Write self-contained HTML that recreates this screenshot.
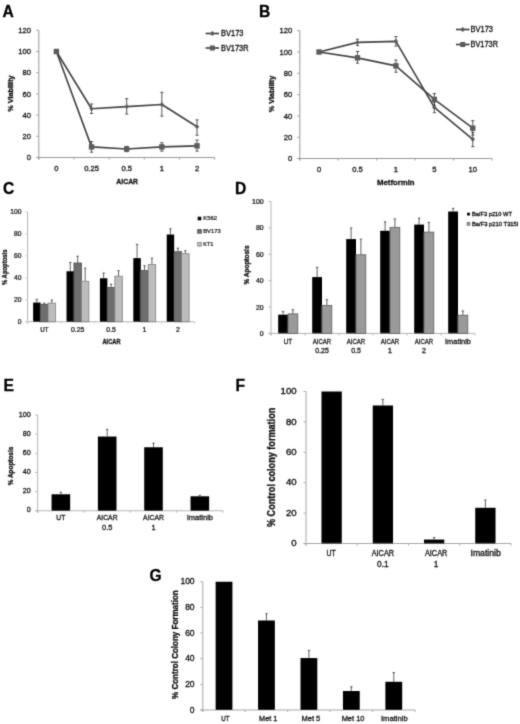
<!DOCTYPE html>
<html><head><meta charset="utf-8"><title>Figure</title>
<style>html,body{margin:0;padding:0;background:#fff;}svg{display:block;}</style>
</head><body>
<svg width="520" height="724" viewBox="0 0 520 724" font-family="Liberation Sans, sans-serif">
<rect width="520" height="724" fill="#fff"/>
<defs><filter id="bl" x="0" y="0" width="520" height="724" filterUnits="userSpaceOnUse"><feConvolveMatrix order="3" kernelMatrix="0.01917 0.10012 0.01917 0.10012 0.52283 0.10012 0.01917 0.10012 0.01917" divisor="1" edgeMode="duplicate" preserveAlpha="false"/></filter></defs>
<g filter="url(#bl)">
<text x="2.5" y="17.2" font-size="15.6" text-anchor="start" font-weight="bold" fill="#000" stroke="#000" stroke-width="0.3">A</text>
<text x="259" y="17.2" font-size="15.6" text-anchor="start" font-weight="bold" fill="#000" stroke="#000" stroke-width="0.3">B</text>
<text x="3" y="194.3" font-size="15.6" text-anchor="start" font-weight="bold" fill="#000" stroke="#000" stroke-width="0.3">C</text>
<text x="235" y="194.3" font-size="15.6" text-anchor="start" font-weight="bold" fill="#000" stroke="#000" stroke-width="0.3">D</text>
<text x="3.6" y="390.6" font-size="15.6" text-anchor="start" font-weight="bold" fill="#000" stroke="#000" stroke-width="0.3">E</text>
<text x="235.5" y="391" font-size="15.6" text-anchor="start" font-weight="bold" fill="#000" stroke="#000" stroke-width="0.3">F</text>
<text x="149.5" y="581.3" font-size="15.6" text-anchor="start" font-weight="bold" fill="#000" stroke="#000" stroke-width="0.3">G</text>
<line x1="38.80" y1="30.30" x2="38.80" y2="159.50" stroke="#9a9a9a" stroke-width="1"/>
<line x1="36.30" y1="157.50" x2="214.60" y2="157.50" stroke="#9a9a9a" stroke-width="1"/>
<line x1="36.30" y1="157.50" x2="38.80" y2="157.50" stroke="#9a9a9a" stroke-width="1"/>
<text x="30.9" y="160.236" font-size="7.6" text-anchor="end" font-weight="normal" fill="#0e0e0e" stroke="#0e0e0e" stroke-width="0.27359999999999995">0</text>
<line x1="36.30" y1="136.30" x2="38.80" y2="136.30" stroke="#9a9a9a" stroke-width="1"/>
<text x="30.9" y="139.036" font-size="7.6" text-anchor="end" font-weight="normal" fill="#0e0e0e" stroke="#0e0e0e" stroke-width="0.27359999999999995">20</text>
<line x1="36.30" y1="115.10" x2="38.80" y2="115.10" stroke="#9a9a9a" stroke-width="1"/>
<text x="30.9" y="117.836" font-size="7.6" text-anchor="end" font-weight="normal" fill="#0e0e0e" stroke="#0e0e0e" stroke-width="0.27359999999999995">40</text>
<line x1="36.30" y1="93.90" x2="38.80" y2="93.90" stroke="#9a9a9a" stroke-width="1"/>
<text x="30.9" y="96.63600000000001" font-size="7.6" text-anchor="end" font-weight="normal" fill="#0e0e0e" stroke="#0e0e0e" stroke-width="0.27359999999999995">60</text>
<line x1="36.30" y1="72.70" x2="38.80" y2="72.70" stroke="#9a9a9a" stroke-width="1"/>
<text x="30.9" y="75.436" font-size="7.6" text-anchor="end" font-weight="normal" fill="#0e0e0e" stroke="#0e0e0e" stroke-width="0.27359999999999995">80</text>
<line x1="36.30" y1="51.50" x2="38.80" y2="51.50" stroke="#9a9a9a" stroke-width="1"/>
<text x="30.9" y="54.236" font-size="7.6" text-anchor="end" font-weight="normal" fill="#0e0e0e" stroke="#0e0e0e" stroke-width="0.27359999999999995">100</text>
<line x1="36.30" y1="30.30" x2="38.80" y2="30.30" stroke="#9a9a9a" stroke-width="1"/>
<text x="30.9" y="33.035999999999994" font-size="7.6" text-anchor="end" font-weight="normal" fill="#0e0e0e" stroke="#0e0e0e" stroke-width="0.27359999999999995">120</text>
<line x1="38.80" y1="157.50" x2="38.80" y2="159.50" stroke="#9a9a9a" stroke-width="1"/>
<line x1="73.96" y1="157.50" x2="73.96" y2="159.50" stroke="#9a9a9a" stroke-width="1"/>
<line x1="109.12" y1="157.50" x2="109.12" y2="159.50" stroke="#9a9a9a" stroke-width="1"/>
<line x1="144.28" y1="157.50" x2="144.28" y2="159.50" stroke="#9a9a9a" stroke-width="1"/>
<line x1="179.44" y1="157.50" x2="179.44" y2="159.50" stroke="#9a9a9a" stroke-width="1"/>
<line x1="214.60" y1="157.50" x2="214.60" y2="159.50" stroke="#9a9a9a" stroke-width="1"/>
<text x="56.379999999999995" y="170.7" font-size="7.6" text-anchor="middle" font-weight="normal" fill="#0e0e0e" stroke="#0e0e0e" stroke-width="0.27359999999999995">0</text>
<text x="91.54" y="170.7" font-size="7.6" text-anchor="middle" font-weight="normal" fill="#0e0e0e" stroke="#0e0e0e" stroke-width="0.27359999999999995">0.25</text>
<text x="126.7" y="170.7" font-size="7.6" text-anchor="middle" font-weight="normal" fill="#0e0e0e" stroke="#0e0e0e" stroke-width="0.27359999999999995">0.5</text>
<text x="161.86" y="170.7" font-size="7.6" text-anchor="middle" font-weight="normal" fill="#0e0e0e" stroke="#0e0e0e" stroke-width="0.27359999999999995">1</text>
<text x="197.02000000000004" y="170.7" font-size="7.6" text-anchor="middle" font-weight="normal" fill="#0e0e0e" stroke="#0e0e0e" stroke-width="0.27359999999999995">2</text>
<line x1="91.54" y1="103.97" x2="91.54" y2="113.51" stroke="#454545" stroke-width="0.9"/>
<line x1="89.94" y1="103.97" x2="93.14" y2="103.97" stroke="#454545" stroke-width="0.9"/>
<line x1="89.94" y1="113.51" x2="93.14" y2="113.51" stroke="#454545" stroke-width="0.9"/>
<line x1="126.70" y1="98.67" x2="126.70" y2="114.04" stroke="#454545" stroke-width="0.9"/>
<line x1="125.10" y1="98.67" x2="128.30" y2="98.67" stroke="#454545" stroke-width="0.9"/>
<line x1="125.10" y1="114.04" x2="128.30" y2="114.04" stroke="#454545" stroke-width="0.9"/>
<line x1="161.86" y1="92.31" x2="161.86" y2="116.16" stroke="#454545" stroke-width="0.9"/>
<line x1="160.26" y1="92.31" x2="163.46" y2="92.31" stroke="#454545" stroke-width="0.9"/>
<line x1="160.26" y1="116.16" x2="163.46" y2="116.16" stroke="#454545" stroke-width="0.9"/>
<line x1="197.02" y1="119.87" x2="197.02" y2="135.24" stroke="#454545" stroke-width="0.9"/>
<line x1="195.42" y1="119.87" x2="198.62" y2="119.87" stroke="#454545" stroke-width="0.9"/>
<line x1="195.42" y1="135.24" x2="198.62" y2="135.24" stroke="#454545" stroke-width="0.9"/>
<polyline points="56.38,51.50 91.54,108.74 126.70,106.62 161.86,104.50 197.02,126.76" fill="none" stroke="#454545" stroke-width="1.65" stroke-linejoin="round"/>
<polygon points="56.379999999999995,49.2 58.67999999999999,51.5 56.379999999999995,53.8 54.08,51.5" fill="#5c5c5c"/>
<polygon points="91.54,106.44000000000001 93.84,108.74000000000001 91.54,111.04 89.24000000000001,108.74000000000001" fill="#5c5c5c"/>
<polygon points="126.7,104.32000000000001 129.0,106.62 126.7,108.92 124.4,106.62" fill="#5c5c5c"/>
<polygon points="161.86,102.2 164.16000000000003,104.5 161.86,106.8 159.56,104.5" fill="#5c5c5c"/>
<polygon points="197.02000000000004,124.46 199.32000000000005,126.75999999999999 197.02000000000004,129.06 194.72000000000003,126.75999999999999" fill="#5c5c5c"/>
<line x1="91.54" y1="141.60" x2="91.54" y2="152.20" stroke="#454545" stroke-width="0.9"/>
<line x1="89.94" y1="141.60" x2="93.14" y2="141.60" stroke="#454545" stroke-width="0.9"/>
<line x1="89.94" y1="152.20" x2="93.14" y2="152.20" stroke="#454545" stroke-width="0.9"/>
<line x1="126.70" y1="146.37" x2="126.70" y2="151.67" stroke="#454545" stroke-width="0.9"/>
<line x1="125.10" y1="146.37" x2="128.30" y2="146.37" stroke="#454545" stroke-width="0.9"/>
<line x1="125.10" y1="151.67" x2="128.30" y2="151.67" stroke="#454545" stroke-width="0.9"/>
<line x1="161.86" y1="142.66" x2="161.86" y2="151.14" stroke="#454545" stroke-width="0.9"/>
<line x1="160.26" y1="142.66" x2="163.46" y2="142.66" stroke="#454545" stroke-width="0.9"/>
<line x1="160.26" y1="151.14" x2="163.46" y2="151.14" stroke="#454545" stroke-width="0.9"/>
<line x1="197.02" y1="140.01" x2="197.02" y2="151.14" stroke="#454545" stroke-width="0.9"/>
<line x1="195.42" y1="140.01" x2="198.62" y2="140.01" stroke="#454545" stroke-width="0.9"/>
<line x1="195.42" y1="151.14" x2="198.62" y2="151.14" stroke="#454545" stroke-width="0.9"/>
<polyline points="56.38,51.50 91.54,146.90 126.70,149.02 161.86,146.90 197.02,145.84" fill="none" stroke="#454545" stroke-width="1.65" stroke-linejoin="round"/>
<rect x="53.68" y="48.80" width="5.40" height="5.40" fill="#5c5c5c"/>
<rect x="88.84" y="144.20" width="5.40" height="5.40" fill="#5c5c5c"/>
<rect x="124.00" y="146.32" width="5.40" height="5.40" fill="#5c5c5c"/>
<rect x="159.16" y="144.20" width="5.40" height="5.40" fill="#5c5c5c"/>
<rect x="194.32" y="143.14" width="5.40" height="5.40" fill="#5c5c5c"/>
<line x1="205.70" y1="33.50" x2="219.00" y2="33.50" stroke="#454545" stroke-width="1.7"/>
<polygon points="212.35,30.9 214.95,33.5 212.35,36.1 209.75,33.5" fill="#5c5c5c"/>
<line x1="205.70" y1="48.00" x2="219.00" y2="48.00" stroke="#454545" stroke-width="1.7"/>
<rect x="209.85" y="45.50" width="5.00" height="5.00" fill="#5c5c5c"/>
<text x="221" y="36.4" font-size="8.2" text-anchor="start" font-weight="normal" fill="#0e0e0e" textLength="22.5" lengthAdjust="spacingAndGlyphs" stroke="#0e0e0e" stroke-width="0.29519999999999996">BV173</text>
<text x="221" y="50.9" font-size="8.2" text-anchor="start" font-weight="normal" fill="#0e0e0e" textLength="27.5" lengthAdjust="spacingAndGlyphs" stroke="#0e0e0e" stroke-width="0.29519999999999996">BV173R</text>
<text x="127.2" y="183.6" font-size="7.8" text-anchor="middle" font-weight="bold" fill="#111" textLength="21.8" lengthAdjust="spacingAndGlyphs" stroke="#111" stroke-width="0.3">AICAR</text>
<text x="13.3" y="93.6" font-size="7.2" text-anchor="middle" font-weight="bold" fill="#111" transform="rotate(-90 13.3 93.6)" textLength="36.5" lengthAdjust="spacingAndGlyphs" stroke="#111" stroke-width="0.3">% Viability</text>
<line x1="299.80" y1="30.70" x2="299.80" y2="160.50" stroke="#9a9a9a" stroke-width="1"/>
<line x1="297.30" y1="158.50" x2="492.00" y2="158.50" stroke="#9a9a9a" stroke-width="1"/>
<line x1="297.30" y1="158.50" x2="299.80" y2="158.50" stroke="#9a9a9a" stroke-width="1"/>
<text x="292.2" y="161.236" font-size="7.6" text-anchor="end" font-weight="normal" fill="#0e0e0e" stroke="#0e0e0e" stroke-width="0.27359999999999995">0</text>
<line x1="297.30" y1="137.20" x2="299.80" y2="137.20" stroke="#9a9a9a" stroke-width="1"/>
<text x="292.2" y="139.93599999999998" font-size="7.6" text-anchor="end" font-weight="normal" fill="#0e0e0e" stroke="#0e0e0e" stroke-width="0.27359999999999995">20</text>
<line x1="297.30" y1="115.90" x2="299.80" y2="115.90" stroke="#9a9a9a" stroke-width="1"/>
<text x="292.2" y="118.63600000000001" font-size="7.6" text-anchor="end" font-weight="normal" fill="#0e0e0e" stroke="#0e0e0e" stroke-width="0.27359999999999995">40</text>
<line x1="297.30" y1="94.60" x2="299.80" y2="94.60" stroke="#9a9a9a" stroke-width="1"/>
<text x="292.2" y="97.336" font-size="7.6" text-anchor="end" font-weight="normal" fill="#0e0e0e" stroke="#0e0e0e" stroke-width="0.27359999999999995">60</text>
<line x1="297.30" y1="73.30" x2="299.80" y2="73.30" stroke="#9a9a9a" stroke-width="1"/>
<text x="292.2" y="76.036" font-size="7.6" text-anchor="end" font-weight="normal" fill="#0e0e0e" stroke="#0e0e0e" stroke-width="0.27359999999999995">80</text>
<line x1="297.30" y1="52.00" x2="299.80" y2="52.00" stroke="#9a9a9a" stroke-width="1"/>
<text x="292.2" y="54.736" font-size="7.6" text-anchor="end" font-weight="normal" fill="#0e0e0e" stroke="#0e0e0e" stroke-width="0.27359999999999995">100</text>
<line x1="297.30" y1="30.70" x2="299.80" y2="30.70" stroke="#9a9a9a" stroke-width="1"/>
<text x="292.2" y="33.436" font-size="7.6" text-anchor="end" font-weight="normal" fill="#0e0e0e" stroke="#0e0e0e" stroke-width="0.27359999999999995">120</text>
<line x1="299.80" y1="158.50" x2="299.80" y2="160.50" stroke="#9a9a9a" stroke-width="1"/>
<line x1="338.24" y1="158.50" x2="338.24" y2="160.50" stroke="#9a9a9a" stroke-width="1"/>
<line x1="376.68" y1="158.50" x2="376.68" y2="160.50" stroke="#9a9a9a" stroke-width="1"/>
<line x1="415.12" y1="158.50" x2="415.12" y2="160.50" stroke="#9a9a9a" stroke-width="1"/>
<line x1="453.56" y1="158.50" x2="453.56" y2="160.50" stroke="#9a9a9a" stroke-width="1"/>
<line x1="492.00" y1="158.50" x2="492.00" y2="160.50" stroke="#9a9a9a" stroke-width="1"/>
<text x="319.02" y="171.7" font-size="7.6" text-anchor="middle" font-weight="normal" fill="#0e0e0e" stroke="#0e0e0e" stroke-width="0.27359999999999995">0</text>
<text x="357.46000000000004" y="171.7" font-size="7.6" text-anchor="middle" font-weight="normal" fill="#0e0e0e" stroke="#0e0e0e" stroke-width="0.27359999999999995">0.5</text>
<text x="395.9" y="171.7" font-size="7.6" text-anchor="middle" font-weight="normal" fill="#0e0e0e" stroke="#0e0e0e" stroke-width="0.27359999999999995">1</text>
<text x="434.34000000000003" y="171.7" font-size="7.6" text-anchor="middle" font-weight="normal" fill="#0e0e0e" stroke="#0e0e0e" stroke-width="0.27359999999999995">5</text>
<text x="472.78" y="171.7" font-size="7.6" text-anchor="middle" font-weight="normal" fill="#0e0e0e" stroke="#0e0e0e" stroke-width="0.27359999999999995">10</text>
<line x1="357.46" y1="39.22" x2="357.46" y2="45.61" stroke="#454545" stroke-width="0.9"/>
<line x1="355.86" y1="39.22" x2="359.06" y2="39.22" stroke="#454545" stroke-width="0.9"/>
<line x1="355.86" y1="45.61" x2="359.06" y2="45.61" stroke="#454545" stroke-width="0.9"/>
<line x1="395.90" y1="36.56" x2="395.90" y2="46.14" stroke="#454545" stroke-width="0.9"/>
<line x1="394.30" y1="36.56" x2="397.50" y2="36.56" stroke="#454545" stroke-width="0.9"/>
<line x1="394.30" y1="46.14" x2="397.50" y2="46.14" stroke="#454545" stroke-width="0.9"/>
<line x1="434.34" y1="102.06" x2="434.34" y2="112.71" stroke="#454545" stroke-width="0.9"/>
<line x1="432.74" y1="102.06" x2="435.94" y2="102.06" stroke="#454545" stroke-width="0.9"/>
<line x1="432.74" y1="112.71" x2="435.94" y2="112.71" stroke="#454545" stroke-width="0.9"/>
<line x1="472.78" y1="132.41" x2="472.78" y2="146.78" stroke="#454545" stroke-width="0.9"/>
<line x1="471.18" y1="132.41" x2="474.38" y2="132.41" stroke="#454545" stroke-width="0.9"/>
<line x1="471.18" y1="146.78" x2="474.38" y2="146.78" stroke="#454545" stroke-width="0.9"/>
<polyline points="319.02,52.00 357.46,42.42 395.90,41.35 434.34,107.38 472.78,139.33" fill="none" stroke="#454545" stroke-width="1.65" stroke-linejoin="round"/>
<polygon points="319.02,49.7 321.32,52.0 319.02,54.3 316.71999999999997,52.0" fill="#5c5c5c"/>
<polygon points="357.46000000000004,40.11500000000001 359.76000000000005,42.415000000000006 357.46000000000004,44.715 355.16,42.415000000000006" fill="#5c5c5c"/>
<polygon points="395.9,39.05 398.2,41.349999999999994 395.9,43.64999999999999 393.59999999999997,41.349999999999994" fill="#5c5c5c"/>
<polygon points="434.34000000000003,105.08 436.64000000000004,107.38 434.34000000000003,109.67999999999999 432.04,107.38" fill="#5c5c5c"/>
<polygon points="472.78,137.02999999999997 475.08,139.32999999999998 472.78,141.63 470.47999999999996,139.32999999999998" fill="#5c5c5c"/>
<line x1="357.46" y1="51.47" x2="357.46" y2="63.18" stroke="#454545" stroke-width="0.9"/>
<line x1="355.86" y1="51.47" x2="359.06" y2="51.47" stroke="#454545" stroke-width="0.9"/>
<line x1="355.86" y1="63.18" x2="359.06" y2="63.18" stroke="#454545" stroke-width="0.9"/>
<line x1="395.90" y1="59.99" x2="395.90" y2="72.23" stroke="#454545" stroke-width="0.9"/>
<line x1="394.30" y1="59.99" x2="397.50" y2="59.99" stroke="#454545" stroke-width="0.9"/>
<line x1="394.30" y1="72.23" x2="397.50" y2="72.23" stroke="#454545" stroke-width="0.9"/>
<line x1="434.34" y1="93.53" x2="434.34" y2="105.25" stroke="#454545" stroke-width="0.9"/>
<line x1="432.74" y1="93.53" x2="435.94" y2="93.53" stroke="#454545" stroke-width="0.9"/>
<line x1="432.74" y1="105.25" x2="435.94" y2="105.25" stroke="#454545" stroke-width="0.9"/>
<line x1="472.78" y1="120.69" x2="472.78" y2="135.07" stroke="#454545" stroke-width="0.9"/>
<line x1="471.18" y1="120.69" x2="474.38" y2="120.69" stroke="#454545" stroke-width="0.9"/>
<line x1="471.18" y1="135.07" x2="474.38" y2="135.07" stroke="#454545" stroke-width="0.9"/>
<polyline points="319.02,52.00 357.46,57.86 395.90,65.84 434.34,99.39 472.78,128.15" fill="none" stroke="#454545" stroke-width="1.65" stroke-linejoin="round"/>
<rect x="316.32" y="49.30" width="5.40" height="5.40" fill="#5c5c5c"/>
<rect x="354.76" y="55.16" width="5.40" height="5.40" fill="#5c5c5c"/>
<rect x="393.20" y="63.14" width="5.40" height="5.40" fill="#5c5c5c"/>
<rect x="431.64" y="96.69" width="5.40" height="5.40" fill="#5c5c5c"/>
<rect x="470.08" y="125.45" width="5.40" height="5.40" fill="#5c5c5c"/>
<line x1="456.00" y1="29.50" x2="469.50" y2="29.50" stroke="#454545" stroke-width="1.7"/>
<polygon points="462.75,26.9 465.35,29.5 462.75,32.1 460.15,29.5" fill="#5c5c5c"/>
<line x1="456.00" y1="44.50" x2="469.50" y2="44.50" stroke="#454545" stroke-width="1.7"/>
<rect x="460.25" y="42.00" width="5.00" height="5.00" fill="#5c5c5c"/>
<text x="470.5" y="32.4" font-size="8.2" text-anchor="start" font-weight="normal" fill="#0e0e0e" textLength="22.5" lengthAdjust="spacingAndGlyphs" stroke="#0e0e0e" stroke-width="0.29519999999999996">BV173</text>
<text x="470.5" y="47.4" font-size="8.2" text-anchor="start" font-weight="normal" fill="#0e0e0e" textLength="27.5" lengthAdjust="spacingAndGlyphs" stroke="#0e0e0e" stroke-width="0.29519999999999996">BV173R</text>
<text x="395.8" y="184.5" font-size="7.8" text-anchor="middle" font-weight="bold" fill="#111" textLength="37.5" lengthAdjust="spacingAndGlyphs" stroke="#111" stroke-width="0.3">Metformin</text>
<text x="274.3" y="94" font-size="7.2" text-anchor="middle" font-weight="bold" fill="#111" transform="rotate(-90 274.3 94)" textLength="36.5" lengthAdjust="spacingAndGlyphs" stroke="#111" stroke-width="0.3">% Viability</text>
<line x1="27.60" y1="212.00" x2="27.60" y2="323.75" stroke="#b4b4b4" stroke-width="1"/>
<line x1="25.10" y1="321.75" x2="194.60" y2="321.75" stroke="#b4b4b4" stroke-width="1"/>
<line x1="25.10" y1="321.75" x2="27.60" y2="321.75" stroke="#d2d2d2" stroke-width="1"/>
<text x="21.4" y="324.162" font-size="6.7" text-anchor="end" font-weight="normal" fill="#0e0e0e" stroke="#0e0e0e" stroke-width="0.2412">0</text>
<line x1="25.10" y1="299.80" x2="27.60" y2="299.80" stroke="#d2d2d2" stroke-width="1"/>
<text x="21.4" y="302.212" font-size="6.7" text-anchor="end" font-weight="normal" fill="#0e0e0e" stroke="#0e0e0e" stroke-width="0.2412">20</text>
<line x1="25.10" y1="277.85" x2="27.60" y2="277.85" stroke="#d2d2d2" stroke-width="1"/>
<text x="21.4" y="280.262" font-size="6.7" text-anchor="end" font-weight="normal" fill="#0e0e0e" stroke="#0e0e0e" stroke-width="0.2412">40</text>
<line x1="25.10" y1="255.90" x2="27.60" y2="255.90" stroke="#d2d2d2" stroke-width="1"/>
<text x="21.4" y="258.312" font-size="6.7" text-anchor="end" font-weight="normal" fill="#0e0e0e" stroke="#0e0e0e" stroke-width="0.2412">60</text>
<line x1="25.10" y1="233.95" x2="27.60" y2="233.95" stroke="#d2d2d2" stroke-width="1"/>
<text x="21.4" y="236.362" font-size="6.7" text-anchor="end" font-weight="normal" fill="#0e0e0e" stroke="#0e0e0e" stroke-width="0.2412">80</text>
<line x1="25.10" y1="212.00" x2="27.60" y2="212.00" stroke="#d2d2d2" stroke-width="1"/>
<text x="21.4" y="214.412" font-size="6.7" text-anchor="end" font-weight="normal" fill="#0e0e0e" stroke="#0e0e0e" stroke-width="0.2412">100</text>
<line x1="27.60" y1="321.75" x2="27.60" y2="323.75" stroke="#d2d2d2" stroke-width="1"/>
<line x1="61.00" y1="321.75" x2="61.00" y2="323.75" stroke="#d2d2d2" stroke-width="1"/>
<line x1="94.40" y1="321.75" x2="94.40" y2="323.75" stroke="#d2d2d2" stroke-width="1"/>
<line x1="127.80" y1="321.75" x2="127.80" y2="323.75" stroke="#d2d2d2" stroke-width="1"/>
<line x1="161.20" y1="321.75" x2="161.20" y2="323.75" stroke="#d2d2d2" stroke-width="1"/>
<line x1="194.60" y1="321.75" x2="194.60" y2="323.75" stroke="#d2d2d2" stroke-width="1"/>
<line x1="36.85" y1="299.25" x2="36.85" y2="302.54" stroke="#3a3a3a" stroke-width="0.8"/>
<line x1="35.65" y1="299.25" x2="38.05" y2="299.25" stroke="#3a3a3a" stroke-width="0.8"/>
<rect x="33.12" y="302.54" width="7.45" height="19.21" fill="#000"/>
<line x1="44.30" y1="303.20" x2="44.30" y2="304.30" stroke="#3a3a3a" stroke-width="0.8"/>
<line x1="43.10" y1="303.20" x2="45.50" y2="303.20" stroke="#3a3a3a" stroke-width="0.8"/>
<rect x="40.58" y="304.30" width="7.45" height="17.45" fill="#6e6e6e" stroke="#4a4a4a" stroke-width="0.8"/>
<line x1="51.75" y1="300.02" x2="51.75" y2="303.09" stroke="#3a3a3a" stroke-width="0.8"/>
<line x1="50.55" y1="300.02" x2="52.95" y2="300.02" stroke="#3a3a3a" stroke-width="0.8"/>
<rect x="48.02" y="303.09" width="7.45" height="18.66" fill="#bdbdbd" stroke="#7d7d7d" stroke-width="0.8"/>
<text x="44.3" y="332.4" font-size="6.9" text-anchor="middle" font-weight="normal" fill="#0e0e0e" textLength="8.3" lengthAdjust="spacingAndGlyphs" stroke="#0e0e0e" stroke-width="0.24839999999999998">UT</text>
<line x1="70.25" y1="262.49" x2="70.25" y2="271.26" stroke="#3a3a3a" stroke-width="0.8"/>
<line x1="69.05" y1="262.49" x2="71.45" y2="262.49" stroke="#3a3a3a" stroke-width="0.8"/>
<rect x="66.52" y="271.26" width="7.45" height="50.49" fill="#000"/>
<line x1="77.70" y1="256.23" x2="77.70" y2="263.03" stroke="#3a3a3a" stroke-width="0.8"/>
<line x1="76.50" y1="256.23" x2="78.90" y2="256.23" stroke="#3a3a3a" stroke-width="0.8"/>
<rect x="73.97" y="263.03" width="7.45" height="58.72" fill="#6e6e6e" stroke="#4a4a4a" stroke-width="0.8"/>
<line x1="85.15" y1="268.19" x2="85.15" y2="281.25" stroke="#3a3a3a" stroke-width="0.8"/>
<line x1="83.95" y1="268.19" x2="86.35" y2="268.19" stroke="#3a3a3a" stroke-width="0.8"/>
<rect x="81.42" y="281.25" width="7.45" height="40.50" fill="#bdbdbd" stroke="#7d7d7d" stroke-width="0.8"/>
<text x="77.69999999999999" y="332.4" font-size="6.9" text-anchor="middle" font-weight="normal" fill="#0e0e0e" stroke="#0e0e0e" stroke-width="0.24839999999999998">0.25</text>
<line x1="103.65" y1="273.02" x2="103.65" y2="278.29" stroke="#3a3a3a" stroke-width="0.8"/>
<line x1="102.45" y1="273.02" x2="104.85" y2="273.02" stroke="#3a3a3a" stroke-width="0.8"/>
<rect x="99.92" y="278.29" width="7.45" height="43.46" fill="#000"/>
<line x1="111.10" y1="284.22" x2="111.10" y2="287.51" stroke="#3a3a3a" stroke-width="0.8"/>
<line x1="109.90" y1="284.22" x2="112.30" y2="284.22" stroke="#3a3a3a" stroke-width="0.8"/>
<rect x="107.38" y="287.51" width="7.45" height="34.24" fill="#6e6e6e" stroke="#4a4a4a" stroke-width="0.8"/>
<line x1="118.55" y1="270.72" x2="118.55" y2="276.20" stroke="#3a3a3a" stroke-width="0.8"/>
<line x1="117.35" y1="270.72" x2="119.75" y2="270.72" stroke="#3a3a3a" stroke-width="0.8"/>
<rect x="114.83" y="276.20" width="7.45" height="45.55" fill="#bdbdbd" stroke="#7d7d7d" stroke-width="0.8"/>
<text x="111.1" y="332.4" font-size="6.9" text-anchor="middle" font-weight="normal" fill="#0e0e0e" stroke="#0e0e0e" stroke-width="0.24839999999999998">0.5</text>
<line x1="137.05" y1="244.38" x2="137.05" y2="258.10" stroke="#3a3a3a" stroke-width="0.8"/>
<line x1="135.85" y1="244.38" x2="138.25" y2="244.38" stroke="#3a3a3a" stroke-width="0.8"/>
<rect x="133.32" y="258.10" width="7.45" height="63.65" fill="#000"/>
<line x1="144.50" y1="265.78" x2="144.50" y2="270.50" stroke="#3a3a3a" stroke-width="0.8"/>
<line x1="143.30" y1="265.78" x2="145.70" y2="265.78" stroke="#3a3a3a" stroke-width="0.8"/>
<rect x="140.77" y="270.50" width="7.45" height="51.25" fill="#6e6e6e" stroke="#4a4a4a" stroke-width="0.8"/>
<line x1="151.95" y1="258.20" x2="151.95" y2="264.46" stroke="#3a3a3a" stroke-width="0.8"/>
<line x1="150.75" y1="258.20" x2="153.15" y2="258.20" stroke="#3a3a3a" stroke-width="0.8"/>
<rect x="148.22" y="264.46" width="7.45" height="57.29" fill="#bdbdbd" stroke="#7d7d7d" stroke-width="0.8"/>
<text x="144.5" y="332.4" font-size="6.9" text-anchor="middle" font-weight="normal" fill="#0e0e0e" stroke="#0e0e0e" stroke-width="0.24839999999999998">1</text>
<line x1="170.45" y1="228.79" x2="170.45" y2="234.50" stroke="#3a3a3a" stroke-width="0.8"/>
<line x1="169.25" y1="228.79" x2="171.65" y2="228.79" stroke="#3a3a3a" stroke-width="0.8"/>
<rect x="166.72" y="234.50" width="7.45" height="87.25" fill="#000"/>
<line x1="177.90" y1="248.22" x2="177.90" y2="251.73" stroke="#3a3a3a" stroke-width="0.8"/>
<line x1="176.70" y1="248.22" x2="179.10" y2="248.22" stroke="#3a3a3a" stroke-width="0.8"/>
<rect x="174.17" y="251.73" width="7.45" height="70.02" fill="#6e6e6e" stroke="#4a4a4a" stroke-width="0.8"/>
<line x1="185.35" y1="250.74" x2="185.35" y2="253.70" stroke="#3a3a3a" stroke-width="0.8"/>
<line x1="184.15" y1="250.74" x2="186.55" y2="250.74" stroke="#3a3a3a" stroke-width="0.8"/>
<rect x="181.62" y="253.70" width="7.45" height="68.05" fill="#bdbdbd" stroke="#7d7d7d" stroke-width="0.8"/>
<text x="177.89999999999998" y="332.4" font-size="6.9" text-anchor="middle" font-weight="normal" fill="#0e0e0e" stroke="#0e0e0e" stroke-width="0.24839999999999998">2</text>
<text x="111.5" y="343.8" font-size="6.6" text-anchor="middle" font-weight="bold" fill="#111" textLength="18" lengthAdjust="spacingAndGlyphs" stroke="#111" stroke-width="0.3">AICAR</text>
<text x="7.1" y="267.3" font-size="6.7" text-anchor="middle" font-weight="bold" fill="#111" transform="rotate(-90 7.1 267.3)" textLength="35.5" lengthAdjust="spacingAndGlyphs" stroke="#111" stroke-width="0.3">% Apoptosis</text>
<rect x="197.70" y="216.70" width="3.60" height="3.60" fill="#000"/>
<text x="203.2" y="220.3" font-size="6" text-anchor="start" font-weight="normal" fill="#0e0e0e" textLength="13.8" lengthAdjust="spacingAndGlyphs" stroke="#0e0e0e" stroke-width="0.21599999999999997">K562</text>
<rect x="197.70" y="229.60" width="3.60" height="3.60" fill="#6e6e6e" stroke="#4a4a4a" stroke-width="0.8"/>
<text x="203.2" y="233.20000000000002" font-size="6" text-anchor="start" font-weight="normal" fill="#0e0e0e" textLength="17.5" lengthAdjust="spacingAndGlyphs" stroke="#0e0e0e" stroke-width="0.21599999999999997">BV173</text>
<rect x="197.70" y="242.50" width="3.60" height="3.60" fill="#bdbdbd" stroke="#7d7d7d" stroke-width="0.8"/>
<text x="203.2" y="246.10000000000002" font-size="6" text-anchor="start" font-weight="normal" fill="#0e0e0e" textLength="10.3" lengthAdjust="spacingAndGlyphs" stroke="#0e0e0e" stroke-width="0.21599999999999997">KT1</text>
<line x1="271.00" y1="201.50" x2="271.00" y2="335.40" stroke="#b4b4b4" stroke-width="1"/>
<line x1="268.50" y1="333.40" x2="475.00" y2="333.40" stroke="#b4b4b4" stroke-width="1"/>
<line x1="268.50" y1="333.40" x2="271.00" y2="333.40" stroke="#b4b4b4" stroke-width="1"/>
<text x="263.6" y="335.88399999999996" font-size="6.9" text-anchor="end" font-weight="normal" fill="#0e0e0e" stroke="#0e0e0e" stroke-width="0.24839999999999998">0</text>
<line x1="268.50" y1="307.02" x2="271.00" y2="307.02" stroke="#b4b4b4" stroke-width="1"/>
<text x="263.6" y="309.50399999999996" font-size="6.9" text-anchor="end" font-weight="normal" fill="#0e0e0e" stroke="#0e0e0e" stroke-width="0.24839999999999998">20</text>
<line x1="268.50" y1="280.64" x2="271.00" y2="280.64" stroke="#b4b4b4" stroke-width="1"/>
<text x="263.6" y="283.12399999999997" font-size="6.9" text-anchor="end" font-weight="normal" fill="#0e0e0e" stroke="#0e0e0e" stroke-width="0.24839999999999998">40</text>
<line x1="268.50" y1="254.26" x2="271.00" y2="254.26" stroke="#b4b4b4" stroke-width="1"/>
<text x="263.6" y="256.74399999999997" font-size="6.9" text-anchor="end" font-weight="normal" fill="#0e0e0e" stroke="#0e0e0e" stroke-width="0.24839999999999998">60</text>
<line x1="268.50" y1="227.88" x2="271.00" y2="227.88" stroke="#b4b4b4" stroke-width="1"/>
<text x="263.6" y="230.364" font-size="6.9" text-anchor="end" font-weight="normal" fill="#0e0e0e" stroke="#0e0e0e" stroke-width="0.24839999999999998">80</text>
<line x1="268.50" y1="201.50" x2="271.00" y2="201.50" stroke="#b4b4b4" stroke-width="1"/>
<text x="263.6" y="203.984" font-size="6.9" text-anchor="end" font-weight="normal" fill="#0e0e0e" stroke="#0e0e0e" stroke-width="0.24839999999999998">100</text>
<line x1="271.00" y1="333.40" x2="271.00" y2="335.40" stroke="#b4b4b4" stroke-width="1"/>
<line x1="305.00" y1="333.40" x2="305.00" y2="335.40" stroke="#b4b4b4" stroke-width="1"/>
<line x1="339.00" y1="333.40" x2="339.00" y2="335.40" stroke="#b4b4b4" stroke-width="1"/>
<line x1="373.00" y1="333.40" x2="373.00" y2="335.40" stroke="#b4b4b4" stroke-width="1"/>
<line x1="407.00" y1="333.40" x2="407.00" y2="335.40" stroke="#b4b4b4" stroke-width="1"/>
<line x1="441.00" y1="333.40" x2="441.00" y2="335.40" stroke="#b4b4b4" stroke-width="1"/>
<line x1="475.00" y1="333.40" x2="475.00" y2="335.40" stroke="#b4b4b4" stroke-width="1"/>
<line x1="283.10" y1="311.64" x2="283.10" y2="314.67" stroke="#3a3a3a" stroke-width="0.8"/>
<line x1="281.90" y1="311.64" x2="284.30" y2="311.64" stroke="#3a3a3a" stroke-width="0.8"/>
<rect x="278.20" y="314.67" width="9.80" height="18.73" fill="#000"/>
<line x1="292.90" y1="309.66" x2="292.90" y2="313.88" stroke="#3a3a3a" stroke-width="0.8"/>
<line x1="291.70" y1="309.66" x2="294.10" y2="309.66" stroke="#3a3a3a" stroke-width="0.8"/>
<rect x="288.00" y="313.88" width="9.80" height="19.52" fill="#9a9a9a" stroke="#5a5a5a" stroke-width="0.8"/>
<text x="288.0" y="343.8" font-size="7" text-anchor="middle" font-weight="normal" fill="#0e0e0e" textLength="8.4" lengthAdjust="spacingAndGlyphs" stroke="#0e0e0e" stroke-width="0.252">UT</text>
<line x1="317.10" y1="267.32" x2="317.10" y2="277.08" stroke="#3a3a3a" stroke-width="0.8"/>
<line x1="315.90" y1="267.32" x2="318.30" y2="267.32" stroke="#3a3a3a" stroke-width="0.8"/>
<rect x="312.20" y="277.08" width="9.80" height="56.32" fill="#000"/>
<line x1="326.90" y1="299.77" x2="326.90" y2="305.44" stroke="#3a3a3a" stroke-width="0.8"/>
<line x1="325.70" y1="299.77" x2="328.10" y2="299.77" stroke="#3a3a3a" stroke-width="0.8"/>
<rect x="322.00" y="305.44" width="9.80" height="27.96" fill="#9a9a9a" stroke="#5a5a5a" stroke-width="0.8"/>
<text x="322.0" y="343.8" font-size="7" text-anchor="middle" font-weight="normal" fill="#0e0e0e" textLength="18.3" lengthAdjust="spacingAndGlyphs" stroke="#0e0e0e" stroke-width="0.252">AICAR</text>
<text x="322.0" y="353.3" font-size="7" text-anchor="middle" font-weight="normal" fill="#0e0e0e" stroke="#0e0e0e" stroke-width="0.252">0.25</text>
<line x1="351.10" y1="228.01" x2="351.10" y2="239.09" stroke="#3a3a3a" stroke-width="0.8"/>
<line x1="349.90" y1="228.01" x2="352.30" y2="228.01" stroke="#3a3a3a" stroke-width="0.8"/>
<rect x="346.20" y="239.09" width="9.80" height="94.31" fill="#000"/>
<line x1="360.90" y1="239.22" x2="360.90" y2="254.79" stroke="#3a3a3a" stroke-width="0.8"/>
<line x1="359.70" y1="239.22" x2="362.10" y2="239.22" stroke="#3a3a3a" stroke-width="0.8"/>
<rect x="356.00" y="254.79" width="9.80" height="78.61" fill="#9a9a9a" stroke="#5a5a5a" stroke-width="0.8"/>
<text x="356.0" y="343.8" font-size="7" text-anchor="middle" font-weight="normal" fill="#0e0e0e" textLength="18.3" lengthAdjust="spacingAndGlyphs" stroke="#0e0e0e" stroke-width="0.252">AICAR</text>
<text x="356.0" y="353.3" font-size="7" text-anchor="middle" font-weight="normal" fill="#0e0e0e" stroke="#0e0e0e" stroke-width="0.252">0.5</text>
<line x1="385.10" y1="221.81" x2="385.10" y2="230.78" stroke="#3a3a3a" stroke-width="0.8"/>
<line x1="383.90" y1="221.81" x2="386.30" y2="221.81" stroke="#3a3a3a" stroke-width="0.8"/>
<rect x="380.20" y="230.78" width="9.80" height="102.62" fill="#000"/>
<line x1="394.90" y1="218.91" x2="394.90" y2="227.35" stroke="#3a3a3a" stroke-width="0.8"/>
<line x1="393.70" y1="218.91" x2="396.10" y2="218.91" stroke="#3a3a3a" stroke-width="0.8"/>
<rect x="390.00" y="227.35" width="9.80" height="106.05" fill="#9a9a9a" stroke="#5a5a5a" stroke-width="0.8"/>
<text x="390.0" y="343.8" font-size="7" text-anchor="middle" font-weight="normal" fill="#0e0e0e" textLength="18.3" lengthAdjust="spacingAndGlyphs" stroke="#0e0e0e" stroke-width="0.252">AICAR</text>
<text x="390.0" y="353.3" font-size="7" text-anchor="middle" font-weight="normal" fill="#0e0e0e" stroke="#0e0e0e" stroke-width="0.252">1</text>
<line x1="419.10" y1="218.12" x2="419.10" y2="224.58" stroke="#3a3a3a" stroke-width="0.8"/>
<line x1="417.90" y1="218.12" x2="420.30" y2="218.12" stroke="#3a3a3a" stroke-width="0.8"/>
<rect x="414.20" y="224.58" width="9.80" height="108.82" fill="#000"/>
<line x1="428.90" y1="222.34" x2="428.90" y2="232.10" stroke="#3a3a3a" stroke-width="0.8"/>
<line x1="427.70" y1="222.34" x2="430.10" y2="222.34" stroke="#3a3a3a" stroke-width="0.8"/>
<rect x="424.00" y="232.10" width="9.80" height="101.30" fill="#9a9a9a" stroke="#5a5a5a" stroke-width="0.8"/>
<text x="424.0" y="343.8" font-size="7" text-anchor="middle" font-weight="normal" fill="#0e0e0e" textLength="18.3" lengthAdjust="spacingAndGlyphs" stroke="#0e0e0e" stroke-width="0.252">AICAR</text>
<text x="424.0" y="353.3" font-size="7" text-anchor="middle" font-weight="normal" fill="#0e0e0e" stroke="#0e0e0e" stroke-width="0.252">2</text>
<line x1="453.10" y1="208.36" x2="453.10" y2="211.52" stroke="#3a3a3a" stroke-width="0.8"/>
<line x1="451.90" y1="208.36" x2="454.30" y2="208.36" stroke="#3a3a3a" stroke-width="0.8"/>
<rect x="448.20" y="211.52" width="9.80" height="121.88" fill="#000"/>
<line x1="462.90" y1="310.98" x2="462.90" y2="315.20" stroke="#3a3a3a" stroke-width="0.8"/>
<line x1="461.70" y1="310.98" x2="464.10" y2="310.98" stroke="#3a3a3a" stroke-width="0.8"/>
<rect x="458.00" y="315.20" width="9.80" height="18.20" fill="#9a9a9a" stroke="#5a5a5a" stroke-width="0.8"/>
<text x="458.0" y="343.8" font-size="7" text-anchor="middle" font-weight="normal" fill="#0e0e0e" textLength="26" lengthAdjust="spacingAndGlyphs" stroke="#0e0e0e" stroke-width="0.252">Imatinib</text>
<text x="249.3" y="265" font-size="6.6" text-anchor="middle" font-weight="bold" fill="#111" transform="rotate(-90 249.3 265)" textLength="39" lengthAdjust="spacingAndGlyphs" stroke="#111" stroke-width="0.3">% Apoptosis</text>
<rect x="467.10" y="212.70" width="2.80" height="2.80" fill="#000"/>
<text x="471.9" y="216.0" font-size="5.4" text-anchor="start" font-weight="normal" fill="#0e0e0e" textLength="40" lengthAdjust="spacingAndGlyphs" stroke="#0e0e0e" stroke-width="0.28">Ba/F3 p210 WT</text>
<rect x="467.10" y="222.50" width="2.80" height="2.80" fill="#9a9a9a" stroke="#5a5a5a" stroke-width="0.6"/>
<text x="471.9" y="225.8" font-size="5.4" text-anchor="start" font-weight="normal" fill="#0e0e0e" textLength="46.6" lengthAdjust="spacingAndGlyphs" stroke="#0e0e0e" stroke-width="0.28">Ba/F3 p210 T315I</text>
<line x1="37.70" y1="415.00" x2="37.70" y2="512.75" stroke="#b4b4b4" stroke-width="1"/>
<line x1="35.20" y1="510.75" x2="223.00" y2="510.75" stroke="#b4b4b4" stroke-width="1"/>
<line x1="35.20" y1="510.75" x2="37.70" y2="510.75" stroke="#b4b4b4" stroke-width="1"/>
<text x="30.6" y="512.4060000000001" font-size="7.1" text-anchor="end" font-weight="normal" fill="#0e0e0e" stroke="#0e0e0e" stroke-width="0.2556">0</text>
<line x1="35.20" y1="491.60" x2="37.70" y2="491.60" stroke="#b4b4b4" stroke-width="1"/>
<text x="30.6" y="493.25600000000003" font-size="7.1" text-anchor="end" font-weight="normal" fill="#0e0e0e" stroke="#0e0e0e" stroke-width="0.2556">20</text>
<line x1="35.20" y1="472.45" x2="37.70" y2="472.45" stroke="#b4b4b4" stroke-width="1"/>
<text x="30.6" y="474.106" font-size="7.1" text-anchor="end" font-weight="normal" fill="#0e0e0e" stroke="#0e0e0e" stroke-width="0.2556">40</text>
<line x1="35.20" y1="453.30" x2="37.70" y2="453.30" stroke="#b4b4b4" stroke-width="1"/>
<text x="30.6" y="454.956" font-size="7.1" text-anchor="end" font-weight="normal" fill="#0e0e0e" stroke="#0e0e0e" stroke-width="0.2556">60</text>
<line x1="35.20" y1="434.15" x2="37.70" y2="434.15" stroke="#b4b4b4" stroke-width="1"/>
<text x="30.6" y="435.806" font-size="7.1" text-anchor="end" font-weight="normal" fill="#0e0e0e" stroke="#0e0e0e" stroke-width="0.2556">80</text>
<line x1="35.20" y1="415.00" x2="37.70" y2="415.00" stroke="#b4b4b4" stroke-width="1"/>
<text x="30.6" y="416.656" font-size="7.1" text-anchor="end" font-weight="normal" fill="#0e0e0e" stroke="#0e0e0e" stroke-width="0.2556">100</text>
<line x1="37.70" y1="510.75" x2="37.70" y2="512.75" stroke="#b4b4b4" stroke-width="1"/>
<line x1="84.03" y1="510.75" x2="84.03" y2="512.75" stroke="#b4b4b4" stroke-width="1"/>
<line x1="130.35" y1="510.75" x2="130.35" y2="512.75" stroke="#b4b4b4" stroke-width="1"/>
<line x1="176.68" y1="510.75" x2="176.68" y2="512.75" stroke="#b4b4b4" stroke-width="1"/>
<line x1="223.00" y1="510.75" x2="223.00" y2="512.75" stroke="#b4b4b4" stroke-width="1"/>
<line x1="60.86" y1="492.27" x2="60.86" y2="494.28" stroke="#3a3a3a" stroke-width="0.8"/>
<line x1="59.66" y1="492.27" x2="62.06" y2="492.27" stroke="#3a3a3a" stroke-width="0.8"/>
<rect x="51.56" y="494.28" width="18.60" height="16.47" fill="#000"/>
<text x="60.862500000000004" y="519.6" font-size="7.4" text-anchor="middle" font-weight="normal" fill="#0e0e0e" textLength="9" lengthAdjust="spacingAndGlyphs" stroke="#0e0e0e" stroke-width="0.26639999999999997">UT</text>
<line x1="107.19" y1="429.36" x2="107.19" y2="436.54" stroke="#3a3a3a" stroke-width="0.8"/>
<line x1="105.99" y1="429.36" x2="108.39" y2="429.36" stroke="#3a3a3a" stroke-width="0.8"/>
<rect x="97.89" y="436.54" width="18.60" height="74.21" fill="#000"/>
<text x="107.18750000000001" y="519.6" font-size="7.4" text-anchor="middle" font-weight="normal" fill="#0e0e0e" textLength="20.8" lengthAdjust="spacingAndGlyphs" stroke="#0e0e0e" stroke-width="0.26639999999999997">AICAR</text>
<text x="107.18750000000001" y="529.6" font-size="7.4" text-anchor="middle" font-weight="normal" fill="#0e0e0e" stroke="#0e0e0e" stroke-width="0.26639999999999997">0.5</text>
<line x1="153.51" y1="443.25" x2="153.51" y2="447.27" stroke="#3a3a3a" stroke-width="0.8"/>
<line x1="152.31" y1="443.25" x2="154.71" y2="443.25" stroke="#3a3a3a" stroke-width="0.8"/>
<rect x="144.21" y="447.27" width="18.60" height="63.48" fill="#000"/>
<text x="153.5125" y="519.6" font-size="7.4" text-anchor="middle" font-weight="normal" fill="#0e0e0e" textLength="20.8" lengthAdjust="spacingAndGlyphs" stroke="#0e0e0e" stroke-width="0.26639999999999997">AICAR</text>
<text x="153.5125" y="529.6" font-size="7.4" text-anchor="middle" font-weight="normal" fill="#0e0e0e" stroke="#0e0e0e" stroke-width="0.26639999999999997">1</text>
<line x1="199.84" y1="495.33" x2="199.84" y2="496.29" stroke="#3a3a3a" stroke-width="0.8"/>
<line x1="198.64" y1="495.33" x2="201.04" y2="495.33" stroke="#3a3a3a" stroke-width="0.8"/>
<rect x="190.54" y="496.29" width="18.60" height="14.46" fill="#000"/>
<text x="199.83750000000003" y="519.6" font-size="7.4" text-anchor="middle" font-weight="normal" fill="#0e0e0e" textLength="26.3" lengthAdjust="spacingAndGlyphs" stroke="#0e0e0e" stroke-width="0.26639999999999997">Imatinib</text>
<text x="13" y="466" font-size="6.6" text-anchor="middle" font-weight="bold" fill="#111" transform="rotate(-90 13 466)" textLength="38.5" lengthAdjust="spacingAndGlyphs" stroke="#111" stroke-width="0.3">% Apoptosis</text>
<line x1="306.00" y1="391.50" x2="306.00" y2="545.50" stroke="#a8a8a8" stroke-width="1"/>
<line x1="303.50" y1="543.50" x2="511.00" y2="543.50" stroke="#a8a8a8" stroke-width="1"/>
<line x1="303.50" y1="543.50" x2="306.00" y2="543.50" stroke="#a8a8a8" stroke-width="1"/>
<text x="296.6" y="546.1560000000001" font-size="9.6" text-anchor="end" font-weight="normal" fill="#0e0e0e" stroke="#0e0e0e" stroke-width="0.34559999999999996">0</text>
<line x1="303.50" y1="513.10" x2="306.00" y2="513.10" stroke="#a8a8a8" stroke-width="1"/>
<text x="296.6" y="515.7560000000001" font-size="9.6" text-anchor="end" font-weight="normal" fill="#0e0e0e" stroke="#0e0e0e" stroke-width="0.34559999999999996">20</text>
<line x1="303.50" y1="482.70" x2="306.00" y2="482.70" stroke="#a8a8a8" stroke-width="1"/>
<text x="296.6" y="485.356" font-size="9.6" text-anchor="end" font-weight="normal" fill="#0e0e0e" stroke="#0e0e0e" stroke-width="0.34559999999999996">40</text>
<line x1="303.50" y1="452.30" x2="306.00" y2="452.30" stroke="#a8a8a8" stroke-width="1"/>
<text x="296.6" y="454.956" font-size="9.6" text-anchor="end" font-weight="normal" fill="#0e0e0e" stroke="#0e0e0e" stroke-width="0.34559999999999996">60</text>
<line x1="303.50" y1="421.90" x2="306.00" y2="421.90" stroke="#a8a8a8" stroke-width="1"/>
<text x="296.6" y="424.556" font-size="9.6" text-anchor="end" font-weight="normal" fill="#0e0e0e" stroke="#0e0e0e" stroke-width="0.34559999999999996">80</text>
<line x1="303.50" y1="391.50" x2="306.00" y2="391.50" stroke="#a8a8a8" stroke-width="1"/>
<text x="296.6" y="394.156" font-size="9.6" text-anchor="end" font-weight="normal" fill="#0e0e0e" stroke="#0e0e0e" stroke-width="0.34559999999999996">100</text>
<line x1="306.00" y1="543.50" x2="306.00" y2="545.50" stroke="#a8a8a8" stroke-width="1"/>
<line x1="357.25" y1="543.50" x2="357.25" y2="545.50" stroke="#a8a8a8" stroke-width="1"/>
<line x1="408.50" y1="543.50" x2="408.50" y2="545.50" stroke="#a8a8a8" stroke-width="1"/>
<line x1="459.75" y1="543.50" x2="459.75" y2="545.50" stroke="#a8a8a8" stroke-width="1"/>
<line x1="511.00" y1="543.50" x2="511.00" y2="545.50" stroke="#a8a8a8" stroke-width="1"/>
<rect x="321.48" y="391.50" width="20.30" height="152.00" fill="#000"/>
<text x="331.025" y="555.9" font-size="8.3" text-anchor="middle" font-weight="normal" fill="#0e0e0e" textLength="9.2" lengthAdjust="spacingAndGlyphs" stroke="#0e0e0e" stroke-width="0.2988">UT</text>
<line x1="382.88" y1="399.40" x2="382.88" y2="405.48" stroke="#3a3a3a" stroke-width="0.8"/>
<line x1="381.68" y1="399.40" x2="384.07" y2="399.40" stroke="#3a3a3a" stroke-width="0.8"/>
<rect x="372.73" y="405.48" width="20.30" height="138.02" fill="#000"/>
<text x="382.875" y="555.9" font-size="8.3" text-anchor="middle" font-weight="normal" fill="#0e0e0e" textLength="22.3" lengthAdjust="spacingAndGlyphs" stroke="#0e0e0e" stroke-width="0.2988">AICAR</text>
<text x="382.875" y="566.6" font-size="8.3" text-anchor="middle" font-weight="normal" fill="#0e0e0e" stroke="#0e0e0e" stroke-width="0.2988">0.1</text>
<line x1="434.12" y1="537.57" x2="434.12" y2="539.55" stroke="#3a3a3a" stroke-width="0.8"/>
<line x1="432.93" y1="537.57" x2="435.32" y2="537.57" stroke="#3a3a3a" stroke-width="0.8"/>
<rect x="423.98" y="539.55" width="20.30" height="3.95" fill="#000"/>
<text x="436.125" y="555.9" font-size="8.3" text-anchor="middle" font-weight="normal" fill="#0e0e0e" textLength="22.3" lengthAdjust="spacingAndGlyphs" stroke="#0e0e0e" stroke-width="0.2988">AICAR</text>
<text x="436.125" y="566.6" font-size="8.3" text-anchor="middle" font-weight="normal" fill="#0e0e0e" stroke="#0e0e0e" stroke-width="0.2988">1</text>
<line x1="485.38" y1="500.03" x2="485.38" y2="507.78" stroke="#3a3a3a" stroke-width="0.8"/>
<line x1="484.18" y1="500.03" x2="486.57" y2="500.03" stroke="#3a3a3a" stroke-width="0.8"/>
<rect x="475.23" y="507.78" width="20.30" height="35.72" fill="#000"/>
<text x="485.675" y="555.9" font-size="8.3" text-anchor="middle" font-weight="normal" fill="#0e0e0e" textLength="30.4" lengthAdjust="spacingAndGlyphs" stroke="#0e0e0e" stroke-width="0.2988">Imatinib</text>
<text x="274.7" y="467.4" font-size="10" text-anchor="middle" font-weight="bold" fill="#111" transform="rotate(-90 274.7 467.4)" textLength="119.3" lengthAdjust="spacingAndGlyphs" stroke="#111" stroke-width="0.3">% Control colony formation</text>
<line x1="202.80" y1="581.75" x2="202.80" y2="712.00" stroke="#a8a8a8" stroke-width="1"/>
<line x1="200.30" y1="710.00" x2="415.00" y2="710.00" stroke="#a8a8a8" stroke-width="1"/>
<line x1="200.30" y1="710.00" x2="202.80" y2="710.00" stroke="#a8a8a8" stroke-width="1"/>
<text x="194.6" y="712.56" font-size="8.5" text-anchor="end" font-weight="normal" fill="#0e0e0e" stroke="#0e0e0e" stroke-width="0.306">0</text>
<line x1="200.30" y1="684.35" x2="202.80" y2="684.35" stroke="#a8a8a8" stroke-width="1"/>
<text x="194.6" y="686.91" font-size="8.5" text-anchor="end" font-weight="normal" fill="#0e0e0e" stroke="#0e0e0e" stroke-width="0.306">20</text>
<line x1="200.30" y1="658.70" x2="202.80" y2="658.70" stroke="#a8a8a8" stroke-width="1"/>
<text x="194.6" y="661.26" font-size="8.5" text-anchor="end" font-weight="normal" fill="#0e0e0e" stroke="#0e0e0e" stroke-width="0.306">40</text>
<line x1="200.30" y1="633.05" x2="202.80" y2="633.05" stroke="#a8a8a8" stroke-width="1"/>
<text x="194.6" y="635.6099999999999" font-size="8.5" text-anchor="end" font-weight="normal" fill="#0e0e0e" stroke="#0e0e0e" stroke-width="0.306">60</text>
<line x1="200.30" y1="607.40" x2="202.80" y2="607.40" stroke="#a8a8a8" stroke-width="1"/>
<text x="194.6" y="609.9599999999999" font-size="8.5" text-anchor="end" font-weight="normal" fill="#0e0e0e" stroke="#0e0e0e" stroke-width="0.306">80</text>
<line x1="200.30" y1="581.75" x2="202.80" y2="581.75" stroke="#a8a8a8" stroke-width="1"/>
<text x="194.6" y="584.31" font-size="8.5" text-anchor="end" font-weight="normal" fill="#0e0e0e" stroke="#0e0e0e" stroke-width="0.306">100</text>
<line x1="202.80" y1="710.00" x2="202.80" y2="712.00" stroke="#a8a8a8" stroke-width="1"/>
<line x1="245.24" y1="710.00" x2="245.24" y2="712.00" stroke="#a8a8a8" stroke-width="1"/>
<line x1="287.68" y1="710.00" x2="287.68" y2="712.00" stroke="#a8a8a8" stroke-width="1"/>
<line x1="330.12" y1="710.00" x2="330.12" y2="712.00" stroke="#a8a8a8" stroke-width="1"/>
<line x1="372.56" y1="710.00" x2="372.56" y2="712.00" stroke="#a8a8a8" stroke-width="1"/>
<line x1="415.00" y1="710.00" x2="415.00" y2="712.00" stroke="#a8a8a8" stroke-width="1"/>
<rect x="215.62" y="581.75" width="16.80" height="128.25" fill="#000"/>
<text x="225.32000000000002" y="720.7" font-size="7.8" text-anchor="middle" font-weight="normal" fill="#0e0e0e" textLength="8.3" lengthAdjust="spacingAndGlyphs" stroke="#0e0e0e" stroke-width="0.2808">UT</text>
<line x1="266.46" y1="613.68" x2="266.46" y2="620.48" stroke="#3a3a3a" stroke-width="0.8"/>
<line x1="265.26" y1="613.68" x2="267.66" y2="613.68" stroke="#3a3a3a" stroke-width="0.8"/>
<rect x="258.06" y="620.48" width="16.80" height="89.52" fill="#000"/>
<text x="268.21000000000004" y="720.7" font-size="7.8" text-anchor="middle" font-weight="normal" fill="#0e0e0e" textLength="18.3" lengthAdjust="spacingAndGlyphs" stroke="#0e0e0e" stroke-width="0.2808">Met 1</text>
<line x1="308.90" y1="650.62" x2="308.90" y2="658.06" stroke="#3a3a3a" stroke-width="0.8"/>
<line x1="307.70" y1="650.62" x2="310.10" y2="650.62" stroke="#3a3a3a" stroke-width="0.8"/>
<rect x="300.50" y="658.06" width="16.80" height="51.94" fill="#000"/>
<text x="310.9" y="720.7" font-size="7.8" text-anchor="middle" font-weight="normal" fill="#0e0e0e" textLength="18.7" lengthAdjust="spacingAndGlyphs" stroke="#0e0e0e" stroke-width="0.2808">Met 5</text>
<line x1="351.34" y1="686.79" x2="351.34" y2="691.02" stroke="#3a3a3a" stroke-width="0.8"/>
<line x1="350.14" y1="686.79" x2="352.54" y2="686.79" stroke="#3a3a3a" stroke-width="0.8"/>
<rect x="342.94" y="691.02" width="16.80" height="18.98" fill="#000"/>
<text x="353.04" y="720.7" font-size="7.8" text-anchor="middle" font-weight="normal" fill="#0e0e0e" textLength="22.8" lengthAdjust="spacingAndGlyphs" stroke="#0e0e0e" stroke-width="0.2808">Met 10</text>
<line x1="393.78" y1="672.55" x2="393.78" y2="681.78" stroke="#3a3a3a" stroke-width="0.8"/>
<line x1="392.58" y1="672.55" x2="394.98" y2="672.55" stroke="#3a3a3a" stroke-width="0.8"/>
<rect x="385.38" y="681.78" width="16.80" height="28.22" fill="#000"/>
<text x="394.38" y="720.7" font-size="7.8" text-anchor="middle" font-weight="normal" fill="#0e0e0e" textLength="26.8" lengthAdjust="spacingAndGlyphs" stroke="#0e0e0e" stroke-width="0.2808">Imatinib</text>
<text x="177.7" y="644.6" font-size="8.6" text-anchor="middle" font-weight="bold" fill="#111" transform="rotate(-90 177.7 644.6)" textLength="108.6" lengthAdjust="spacingAndGlyphs" stroke="#111" stroke-width="0.3">% Control Colony Formation</text>
</g>
</svg>
</body></html>
